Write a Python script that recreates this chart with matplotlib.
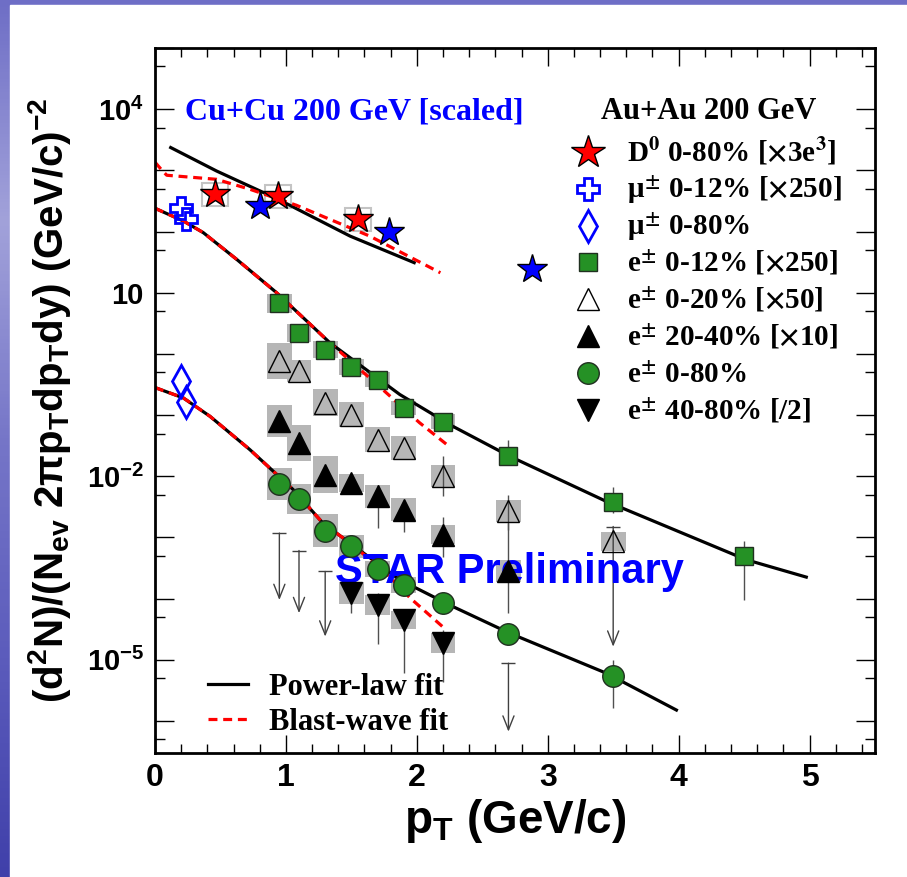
import numpy as np
import matplotlib
matplotlib.use("Agg")
import matplotlib.pyplot as plt
from matplotlib.patches import Rectangle
from matplotlib.colors import LinearSegmentedColormap
from matplotlib.ticker import MultipleLocator, LogLocator, FuncFormatter, NullFormatter

SANS = 'Liberation Sans'
SERIF = 'Liberation Serif'

plt.rcParams['font.family'] = SANS
plt.rcParams['font.weight'] = 'bold'
plt.rcParams['mathtext.fontset'] = 'custom'
plt.rcParams['mathtext.rm'] = 'Liberation Sans:bold'
plt.rcParams['mathtext.it'] = 'Liberation Sans:bold'
plt.rcParams['mathtext.bf'] = 'Liberation Sans:bold'
plt.rcParams['mathtext.sf'] = 'Liberation Sans:bold'

# ---------------- data ----------------
# D0 Au+Au 0-80% (x3e3) and Cu+Cu (scaled)
d0_pt = [0.46, 0.94, 1.55]
d0_y = [406, 377, 158]
d0_sys = [0.19, 0.19, 0.19]
cucu_pt = [0.80, 1.79, 2.88]
cucu_y = [258, 97, 24]

# muons
mu012_pt = [0.20, 0.24]
mu012_y = [246, 158]
mu080_pt = [0.20, 0.235]
mu080_y = [0.357, 0.162]

# e+- 0-12% [x250]
e012_pt = [0.95, 1.1, 1.3, 1.5, 1.7, 1.9, 2.2, 2.7, 3.5, 4.5]
e012_y = [6.68, 2.21, 1.18, 0.615, 0.381, 0.131, 0.0783, 0.0217, 3.74e-3, 4.89e-4]
e012_lo = [6.68, 2.21, 1.18, 0.615, 0.381, 0.131, 0.0783, 0.0167, 2.54e-3, 9.5e-5]
e012_hi = [6.68, 2.21, 1.18, 0.615, 0.381, 0.131, 0.0783, 0.0397, 6.76e-3, 8.6e-4]
e012_sys = [0.16, 0.15, 0.14, 0.13, 0.12, 0.12, 0.12, 0.0, 0.0, 0.0]

# e+- 0-20% [x50]
e020_pt = [0.95, 1.1, 1.3, 1.5, 1.7, 1.9, 2.2, 2.7, 3.5]
e020_y = [0.760, 0.521, 0.158, 0.102, 0.0397, 0.0290, 9.96e-3, 2.67e-3, 8.6e-4]
e020_lo = [0.760, 0.521, 0.158, 0.102, 0.0397, 0.0290, 4.69e-3, 1.34e-3, 8.6e-4]
e020_hi = [0.760, 0.521, 0.158, 0.102, 0.0397, 0.0290, 0.0212, 5.0e-3, 8.6e-4]
e020_sys = [0.29, 0.18, 0.22, 0.20, 0.20, 0.19, 0.18, 0.18, 0.15]

# e+- 20-40% [x10]
e2040_pt = [0.95, 1.1, 1.3, 1.5, 1.7, 1.9, 2.2, 2.7]
e2040_y = [0.0792, 0.0351, 0.0106, 7.76e-3, 4.69e-3, 2.84e-3, 1.11e-3, 2.78e-4]
e2040_lo = [0.0792, 0.0351, 0.0106, 7.76e-3, 1.44e-3, 1.24e-3, 4.83e-4, 5.86e-5]
e2040_hi = [0.0792, 0.0351, 0.0106, 7.76e-3, 7.3e-3, 4.14e-3, 2.18e-3, 1.74e-3]
e2040_sys = [0.26, 0.30, 0.30, 0.15, 0.19, 0.19, 0.16, 0.18]
e2040_ul_pt = [3.5]
e2040_ul_top = [1.51e-3]
e2040_ul_bot = [1.64e-5]

# e+- 0-80%
e080_pt = [0.95, 1.1, 1.3, 1.5, 1.7, 1.9, 2.2, 2.7, 3.5]
e080_y = [7.57e-3, 4.25e-3, 1.29e-3, 7.13e-4, 3.04e-4, 1.68e-4, 8.43e-5, 2.65e-5, 5.51e-6]
e080_lo = [7.57e-3, 4.25e-3, 1.29e-3, 7.13e-4, 3.04e-4, 1.68e-4, 8.43e-5, 2.65e-5, 1.63e-6]
e080_hi = [7.57e-3, 4.25e-3, 1.29e-3, 7.13e-4, 3.04e-4, 1.68e-4, 8.43e-5, 2.65e-5, 9.95e-6]
e080_sys = [0.26, 0.25, 0.27, 0.19, 0.13, 0.13, 0.0, 0.0, 0.0]

# e+- 40-80% [/2]
e4080_pt = [1.5, 1.7, 1.9, 2.2]
e4080_y = [1.23e-4, 7.92e-5, 4.50e-5, 1.87e-5]
e4080_lo = [5.86e-5, 1.81e-5, 6.1e-6, 4.3e-6]
e4080_hi = [1.82e-4, 1.24e-4, 5.86e-5, 3.08e-5]
e4080_sys = [0.18, 0.16, 0.15, 0.16]
e4080_ul_pt = [0.95, 1.1, 1.3, 2.7]
e4080_ul_top = [1.18e-3, 6.12e-4, 2.78e-4, 8.8e-6]
e4080_ul_bot = [9.5e-5, 5.8e-5, 2.4e-5, 6.7e-7]

# fit curves (sampled from the figure)
pl_top_pt = [0.12, 0.47, 0.94, 1.49, 1.98]
pl_top_y = [2360, 977, 337, 84.3, 31.0]
bw_top_pt = [0.0, 0.06, 0.09, 0.47, 0.725, 1.08, 1.64, 2.18]
bw_top_y = [1360, 966, 832, 714, 491, 269, 84.3, 21.2]

pl_mid_pt = [0.0, 0.216, 0.369, 0.624, 0.929, 1.336, 1.87, 2.275, 2.71, 3.448, 4.517, 4.975]
pl_mid_y = [240, 149, 95.9, 35.1, 10.0, 1.52, 0.217, 0.0656, 0.0212, 3.88e-3, 4.32e-4, 2.25e-4]
bw_mid_pt = [0.0, 0.216, 0.369, 0.624, 0.929, 1.336, 1.74, 2.02, 2.23]
bw_mid_y = [240, 149, 95.9, 35.1, 10.0, 1.52, 0.261, 0.0753, 0.0329]

pl_bot_pt = [0.0, 0.216, 0.42, 0.725, 1.056, 1.282, 1.489, 1.87, 2.275, 2.71, 3.448, 3.983]
pl_bot_y = [0.282, 0.191, 0.0955, 0.0272, 6.04e-3, 1.72e-3, 8.11e-4, 2.03e-4, 7.43e-5, 2.72e-5, 6.04e-6, 1.51e-6]
bw_bot_pt = [0.0, 0.216, 0.42, 0.725, 1.056, 1.282, 1.489, 1.75, 1.95, 2.21]
bw_bot_y = [0.282, 0.191, 0.0955, 0.0272, 6.04e-3, 1.72e-3, 8.11e-4, 2.82e-4, 1.02e-4, 3.29e-5]

legend_labels = [r'D$^{\mathbf{0}}$ 0-80% [$\times$3e$^{\mathbf{3}}$]',
                 r'μ$^{\pm}$ 0-12% [$\times$250]',
                 r'μ$^{\pm}$ 0-80%',
                 r'e$^{\pm}$ 0-12% [$\times$250]',
                 r'e$^{\pm}$ 0-20% [$\times$50]',
                 r'e$^{\pm}$ 20-40% [$\times$10]',
                 r'e$^{\pm}$ 0-80%',
                 r'e$^{\pm}$ 40-80% [/2]']
ylabel_decades = {4: r'10$^{4}$', 1: '10', -2: r'10$^{-2}$', -5: r'10$^{-5}$'}

# ---------------- styles ----------------
GREEN = '#259125'
st_d0 = dict(marker='*', ms=22, mfc='#ff0000', mec='black', mew=1.0)
st_cucu = dict(marker='*', ms=22, mfc='#0000ff', mec='black', mew=1.0)
st_mu012 = dict(marker='P', ms=16, mfc='none', mec='#0000ff', mew=2.0)
st_mu080 = dict(marker='d', ms=16, mfc='none', mec='#0000ff', mew=2.0)
st_e012 = dict(marker='s', ms=13.5, mfc=GREEN, mec='#203020', mew=1.0)
st_e020 = dict(marker='^', ms=16, mfc='none', mec='black', mew=1.0)
st_e2040 = dict(marker='^', ms=16, mfc='black', mec='black', mew=1.0)
st_e080 = dict(marker='o', ms=15.5, mfc=GREEN, mec='#203020', mew=1.0)
st_e4080 = dict(marker='v', ms=16, mfc='black', mec='black', mew=1.0)
legend_styles = [st_d0, st_mu012, st_mu080, st_e012, st_e020, st_e2040, st_e080, st_e4080]

W, H = 907, 877
fig = plt.figure(figsize=(W / 100, H / 100), dpi=100)

# slide background
bg = fig.add_axes([0, 0, 1, 1], zorder=-10)
slide = LinearSegmentedColormap.from_list('slide', ['#6e6ec6', '#a2a2da', '#7676c8', '#5c5cbc', '#4040aa'])
bg.imshow(np.linspace(0, 1, 256)[:, None], aspect='auto', cmap=slide, extent=[0, 1, 0, 1])
bg.add_patch(Rectangle((10 / W, 0), 1, (H - 5) / H, transform=bg.transAxes, color='white'))
bg.axis('off')

ax = fig.add_axes([155 / W, 124 / H, 720 / W, 705 / H])
ax.set_yscale('log')
ax.set_xlim(0, 5.5)
ax.set_ylim(3e-7, 1e5)


def sys_boxes(pt, y, sys, hw=0.095, filled=True):
    for x, v, s in zip(pt, y, sys):
        if s <= 0:
            continue
        lo, hi = v * 10 ** -s, v * 10 ** s
        if filled:
            ax.add_patch(Rectangle((x - hw, lo), 2 * hw, hi - lo, fc='#b6b6b6', ec='none', zorder=1))
        else:
            ax.add_patch(Rectangle((x - hw, lo), 2 * hw, hi - lo, fc='none', ec='#c4c4c4', lw=1.5, zorder=1))


def err_bars(pt, y, lo, hi):
    y, lo, hi = np.array(y), np.array(lo), np.array(hi)
    ax.errorbar(pt, y, yerr=[y - lo, hi - y], fmt='none', ecolor='#505050', elinewidth=1.0, zorder=2.5)


def upper_limits(pt, top, bot):
    for x, t, b in zip(pt, top, bot):
        ax.annotate('', xy=(x, b), xytext=(x, t),
                    arrowprops=dict(arrowstyle='->,head_length=1.0,head_width=0.4',
                                    color='#404040', lw=1.0, shrinkA=0, shrinkB=0), zorder=2.5)
    ax.plot(pt, top, ls='none', marker='_', ms=10, mec='#404040', mew=1.0, zorder=2.5)


# systematic boxes
sys_boxes(d0_pt, d0_y, d0_sys, hw=0.1, filled=False)
sys_boxes(e012_pt, e012_y, e012_sys)
sys_boxes(e020_pt, e020_y, e020_sys)
sys_boxes(e2040_pt, e2040_y, e2040_sys)
sys_boxes(e080_pt, e080_y, e080_sys)
sys_boxes(e4080_pt, e4080_y, e4080_sys)

# fits
dash = (0, (2.8, 1.8))
pl_line, = ax.plot(pl_top_pt, pl_top_y, color='black', lw=2.3, zorder=2)
ax.plot(pl_mid_pt, pl_mid_y, color='black', lw=2.3, zorder=2)
ax.plot(pl_bot_pt, pl_bot_y, color='black', lw=2.3, zorder=2)
bw_line, = ax.plot(bw_top_pt, bw_top_y, color='red', lw=2.3, ls=dash, zorder=2.2)
ax.plot(bw_mid_pt, bw_mid_y, color='red', lw=2.3, ls=dash, zorder=2.2)
ax.plot(bw_bot_pt, bw_bot_y, color='red', lw=2.3, ls=dash, zorder=2.2)

# error bars and upper limits
err_bars(e012_pt, e012_y, e012_lo, e012_hi)
err_bars(e020_pt, e020_y, e020_lo, e020_hi)
err_bars(e2040_pt, e2040_y, e2040_lo, e2040_hi)
err_bars(e080_pt, e080_y, e080_lo, e080_hi)
err_bars(e4080_pt, e4080_y, e4080_lo, e4080_hi)
upper_limits(e4080_ul_pt, e4080_ul_top, e4080_ul_bot)
upper_limits(e2040_ul_pt, e2040_ul_top, e2040_ul_bot)

ax.text(0.25, 0.241, 'STAR Preliminary', transform=ax.transAxes, ha='left', va='baseline',
        color='#0000ff', fontsize=30, fontweight='bold', family=SANS, zorder=3)

# markers
series = [(d0_pt, d0_y, st_d0), (cucu_pt, cucu_y, st_cucu),
          (mu012_pt, mu012_y, st_mu012), (mu080_pt, mu080_y, st_mu080),
          (e012_pt, e012_y, st_e012), (e020_pt, e020_y, st_e020),
          (e2040_pt, e2040_y, st_e2040), (e080_pt, e080_y, st_e080),
          (e4080_pt, e4080_y, st_e4080)]
for xs, ys, st in series:
    ax.plot(xs, ys, ls='none', zorder=4, **st)

# texts
ax.text(0.042, 0.898, 'Cu+Cu 200 GeV [scaled]', transform=ax.transAxes, ha='left', va='baseline',
        color='#0000ff', fontsize=23, fontweight='bold', family=SERIF)
ax.text(0.619, 0.899, 'Au+Au 200 GeV', transform=ax.transAxes, ha='left', va='baseline',
        color='black', fontsize=22, fontweight='bold', family=SERIF)

# legend for the data series
row0, step = (753 - 151.7) / 705, 36.9 / 705
for i, (lab, st) in enumerate(zip(legend_labels, legend_styles)):
    yc = row0 - i * step
    kw = dict(st)
    if kw['marker'] == '*':
        kw['ms'] = 25
    if kw['mfc'] == 'none' and kw['marker'] == '^':
        kw['mfc'] = 'white'
    ax.plot([0.601], [yc], ls='none', transform=ax.transAxes, clip_on=False, zorder=5, **kw)
    t = ax.text(0.656, yc - 9.5 / 705, lab, transform=ax.transAxes, ha='left', va='baseline',
                fontsize=21, fontweight='bold', family=SERIF, zorder=5)
    t.set_math_fontfamily('stix')

# legend for the fits
ax.legend([pl_line, bw_line], ['Power-law fit', 'Blast-wave fit'], loc='lower left',
          bbox_to_anchor=(0.074, 0.023), frameon=False, borderpad=0, borderaxespad=0,
          handlelength=1.3, handletextpad=0.7, labelspacing=0.2,
          prop=dict(family=SERIF, weight='bold', size=22))

# axes styling
ax.xaxis.set_major_locator(MultipleLocator(1))
ax.xaxis.set_minor_locator(MultipleLocator(0.2))
ax.xaxis.set_major_formatter(FuncFormatter(lambda v, p: f'{v:.0f}'))
ax.yaxis.set_major_locator(LogLocator(base=10, numticks=30))
ax.yaxis.set_minor_locator(LogLocator(base=10, subs=(5,), numticks=30))
ax.yaxis.set_major_formatter(FuncFormatter(lambda v, p: ylabel_decades.get(int(round(np.log10(v))), '')))
ax.yaxis.set_minor_formatter(NullFormatter())

ax.tick_params(which='both', direction='in', top=True, right=True, width=1.0, color='black')
ax.tick_params(axis='x', which='major', length=13, labelsize=23, pad=7)
ax.tick_params(axis='x', which='minor', length=6.5)
ax.tick_params(axis='y', which='major', length=14, labelsize=21, pad=8)
ax.tick_params(axis='y', which='minor', length=7)
for sp in ax.spines.values():
    sp.set_linewidth(2.0)

ax.set_xlabel(r'p$_{T}$ (GeV/c)', fontsize=33, fontweight='bold', family=SANS)
ax.xaxis.set_label_coords(0.5, -0.063)
ax.set_ylabel(r'(d$^{2}$N)/(N$_{ev}$ 2$\pi$p$_{T}$dp$_{T}$dy) (GeV/c)$^{-2}$',
              fontsize=29, fontweight='bold', family=SANS)
ax.yaxis.label.set_va('center')
ax.yaxis.set_label_coords(-0.147, 0.5)

fig.savefig('out.png', dpi=100)
